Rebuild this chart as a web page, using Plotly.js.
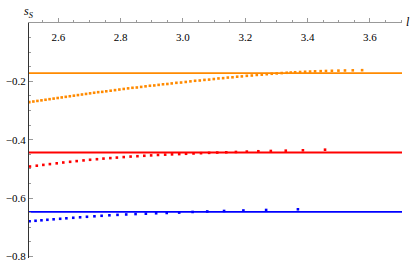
<!DOCTYPE html>
<html>
<head>
<meta charset="utf-8">
<script src="https://cdn.plot.ly/plotly-3.0.1.min.js"></script>
<style>
  html, body { margin: 0; padding: 0; background: #fff; }
  #chart { width: 415px; height: 265px; }
</style>
</head>
<body>
<div id="chart"></div>
<script>
// Horizontal reference levels (solid lines)
const lineL = [2.506, 3.703];
const levelOrange = -0.1715;
const levelRed = -0.4436;
const levelBlue = -0.6470;

// Orange points
const orangeL = [2.507, 2.520, 2.533, 2.546, 2.559, 2.572, 2.585, 2.598, 2.611, 2.624,
  2.637, 2.650, 2.663, 2.676, 2.689, 2.702, 2.715, 2.728, 2.741, 2.754,
  2.768, 2.782, 2.796, 2.810, 2.824, 2.838, 2.852, 2.866, 2.880, 2.894,
  2.908, 2.922, 2.936, 2.950, 2.964, 2.979, 2.994, 3.009, 3.024, 3.039,
  3.054, 3.069, 3.084, 3.099, 3.114, 3.129, 3.144, 3.159, 3.174, 3.189,
  3.205, 3.221, 3.237, 3.253, 3.269, 3.285, 3.301, 3.317, 3.333, 3.346,
  3.360, 3.376, 3.392, 3.408, 3.424, 3.442, 3.459, 3.478, 3.499, 3.520,
  3.545, 3.575];
const orangeS = [-0.271, -0.269, -0.267, -0.265, -0.263, -0.261, -0.259, -0.257, -0.255, -0.253,
  -0.251, -0.249, -0.247, -0.245, -0.243, -0.241, -0.239, -0.237, -0.236, -0.234,
  -0.232, -0.230, -0.228, -0.226, -0.224, -0.222, -0.221, -0.219, -0.217, -0.215,
  -0.214, -0.212, -0.210, -0.209, -0.207, -0.205, -0.204, -0.202, -0.200, -0.198,
  -0.197, -0.195, -0.194, -0.192, -0.190, -0.189, -0.187, -0.186, -0.184, -0.183,
  -0.181, -0.180, -0.178, -0.177, -0.1755, -0.174, -0.1728, -0.1716, -0.1705, -0.1697,
  -0.1688, -0.1679, -0.1671, -0.1664, -0.1657, -0.1650, -0.1644, -0.1638, -0.1632, -0.1627,
  -0.1622, -0.1617];

// Red points
const redL = [2.509, 2.531, 2.552, 2.573, 2.595, 2.616, 2.638, 2.659, 2.681, 2.702,
  2.724, 2.745, 2.767, 2.788, 2.810, 2.832, 2.854, 2.876, 2.898, 2.920,
  2.943, 2.965, 2.988, 3.010, 3.034, 3.058, 3.084, 3.110, 3.139, 3.170,
  3.205, 3.242, 3.282, 3.330, 3.385, 3.456];
const redS = [-0.4916, -0.4889, -0.4861, -0.4834, -0.4807, -0.4779, -0.4755, -0.4731, -0.4707, -0.4686,
  -0.4666, -0.4645, -0.4628, -0.4611, -0.4593, -0.4576, -0.4563, -0.4549, -0.4535, -0.4521,
  -0.4511, -0.4501, -0.4491, -0.4480, -0.4470, -0.4460, -0.4449, -0.4439, -0.4429, -0.4418,
  -0.4405, -0.4394, -0.4384, -0.4374, -0.4360, -0.4340];

// Blue points
const blueL = [2.508, 2.527, 2.546, 2.565, 2.585, 2.606, 2.626, 2.648, 2.670, 2.692,
  2.716, 2.739, 2.764, 2.790, 2.818, 2.848, 2.881, 2.914, 2.948, 2.988,
  3.031, 3.078, 3.132, 3.194, 3.267, 3.369];
const blueS = [-0.6792, -0.6775, -0.6758, -0.6741, -0.6724, -0.6707, -0.6690, -0.6672, -0.6655, -0.6638,
  -0.6621, -0.6604, -0.6587, -0.6573, -0.6559, -0.6545, -0.6532, -0.6518, -0.6508, -0.6494,
  -0.6473, -0.6456, -0.6439, -0.6422, -0.6405, -0.6381];

const orange = '#ff8a00';
const red = '#ff0000';
const blue = '#0000ff';

function hline(level, color) {
    return {
        x: lineL,
        y: [level, level],
        type: 'scatter',
        mode: 'lines',
        line: { color: color, width: 1.8 },
        hoverinfo: 'skip'
    };
}

function dots(xs, ys, color) {
    return {
        x: xs,
        y: ys,
        type: 'scatter',
        mode: 'markers',
        marker: { color: color, size: 2.6, symbol: 'square', line: { width: 0 } }
    };
}

const traces = [
    hline(levelOrange, orange),
    hline(levelRed, red),
    hline(levelBlue, blue),
    dots(orangeL, orangeS, orange),
    dots(redL, redS, red),
    dots(blueL, blueS, blue)
];

const serif = '"Liberation Serif", "Times New Roman", serif';
const tickFont = { family: serif, size: 11, color: '#000' };

const layout = {
    width: 415,
    height: 265,
    margin: { l: 29, r: 13, t: 23, b: 7 },
    paper_bgcolor: '#fff',
    plot_bgcolor: '#fff',
    showlegend: false,
    xaxis: {
        range: lineL,
        side: 'top',
        showgrid: false,
        zeroline: false,
        showline: true,
        linecolor: '#999',
        linewidth: 1,
        tick0: 2.6,
        dtick: 0.2,
        ticks: 'outside',
        ticklen: 4,
        tickcolor: '#999',
        showticklabels: false,
        minor: { dtick: 0.05, ticks: 'outside', ticklen: 2, tickcolor: '#999' }
    },
    // label-only axis, sitting just under the top axis line
    xaxis2: {
        range: lineL,
        overlaying: 'x',
        anchor: 'free',
        position: 0.915,
        side: 'top',
        showgrid: false,
        zeroline: false,
        showline: false,
        ticks: '',
        tick0: 2.6,
        dtick: 0.2,
        tickformat: '.1f',
        tickfont: tickFont
    },
    yaxis: {
        range: [-0.805, -0.0001],
        showgrid: false,
        zeroline: false,
        showline: true,
        linecolor: '#333',
        linewidth: 1,
        tick0: 0,
        dtick: 0.2,
        ticks: 'inside',
        ticklen: 4,
        tickcolor: '#999',
        tickformat: '.1f',
        tickfont: tickFont,
        minor: { dtick: 0.05, ticks: 'inside', ticklen: 2, tickcolor: '#999' }
    },
    annotations: [
        {
            text: '<i>s</i><sub><i>S</i></sub>',
            xref: 'paper', yref: 'paper',
            x: 0, y: 1.045,
            xanchor: 'center', yanchor: 'middle',
            showarrow: false,
            font: { family: serif, size: 12, color: '#000' }
        },
        {
            text: '<i>l</i>',
            xref: 'paper', yref: 'paper',
            x: 1.006, y: 1.005,
            xanchor: 'left', yanchor: 'middle',
            showarrow: false,
            font: { family: serif, size: 12, color: '#000' }
        }
    ]
};

// empty trace so the label axis gets drawn
traces.push({ x: [], y: [], type: 'scatter', mode: 'markers', xaxis: 'x2', yaxis: 'y', hoverinfo: 'skip' });

Plotly.newPlot('chart', traces, layout, { staticPlot: true, displayModeBar: false });
</script>
</body>
</html>
